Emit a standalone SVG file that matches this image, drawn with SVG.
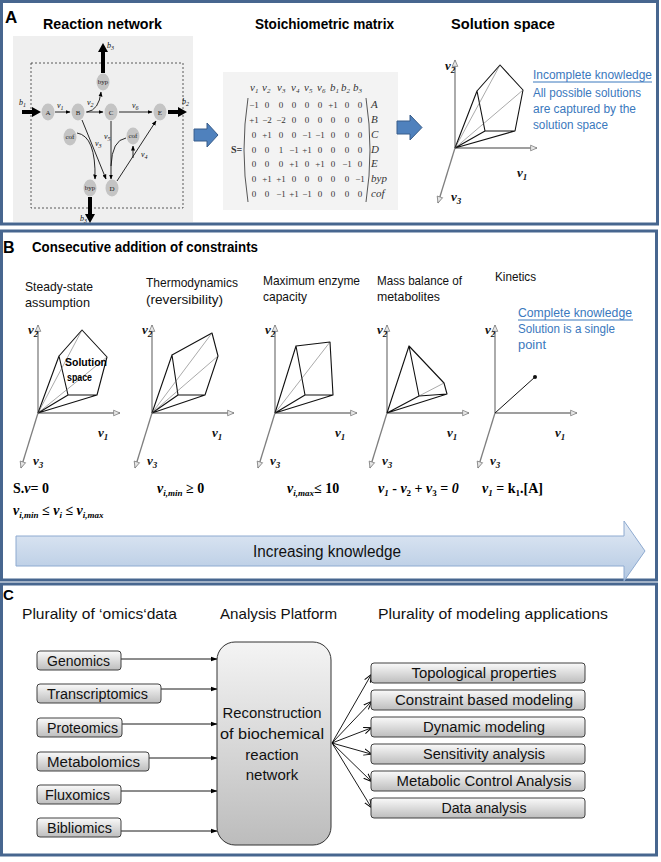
<svg xmlns="http://www.w3.org/2000/svg" width="661" height="862" viewBox="0 0 661 862">
<defs>
<style>
.panel{fill:#fff;stroke:#47668f;stroke-width:3}
.ttl{font-family:'Liberation Sans',Arial,sans-serif;font-weight:bold;fill:#000}
.cal{font-family:'Liberation Sans',Arial,sans-serif;fill:#111}
.blue{font-family:'Liberation Sans',Arial,sans-serif;fill:#3a78bd;font-size:12px}
.node{fill:#c4c4c4}
.nt{font-family:'Liberation Serif','Times New Roman',serif;font-size:7px;text-anchor:middle;fill:#222}
.net{stroke:#111;stroke-width:0.9;fill:none}
.lab{font-family:'Liberation Serif','Times New Roman',serif;font-style:italic;font-size:8px;fill:#111}
.mx{font-family:'Liberation Serif','Times New Roman',serif;font-size:9px;text-anchor:middle;fill:#333}
.mh{font-family:'Liberation Serif','Times New Roman',serif;font-style:italic;font-size:11px;fill:#333}
.axis{stroke:#7f7f7f;stroke-width:1.3;fill:none}
.poly{stroke:#111;stroke-width:1.1;fill:none;stroke-linejoin:round}
.thin{stroke:#555;stroke-width:0.5;fill:none}
.vl{font-family:'Liberation Serif','Times New Roman',serif;font-weight:bold;font-style:italic;font-size:13px;fill:#111}
.eq{font-family:'Liberation Serif','Times New Roman',serif;font-weight:bold;font-size:14px;fill:#000}
.box{stroke:#404040;stroke-width:1;fill:url(#gb)}
.bt{font-family:'Liberation Sans',Arial,sans-serif;font-size:14px;fill:#111}
.conn{stroke:#000;stroke-width:0.9;fill:none}
.blk{fill:#4f81bd;stroke:#385d8a;stroke-width:1}
</style>
<linearGradient id="gb" x1="0" y1="0" x2="0" y2="1"><stop offset="0" stop-color="#fafafa"/><stop offset="1" stop-color="#bdbdbd"/></linearGradient>
<linearGradient id="gbig" x1="0" y1="0" x2="0" y2="1"><stop offset="0" stop-color="#f4f4f4"/><stop offset="1" stop-color="#bcbcbc"/></linearGradient>
<linearGradient id="gk" x1="0" y1="0" x2="0" y2="1"><stop offset="0" stop-color="#e3ebf5"/><stop offset="1" stop-color="#b3c8e2"/></linearGradient>
<marker id="ah" viewBox="0 0 10 10" refX="9" refY="5" markerWidth="5" markerHeight="5" orient="auto" markerUnits="userSpaceOnUse"><path d="M0,1 L10,5 L0,9 z" fill="#000"/></marker>
<marker id="ahc" viewBox="0 0 10 10" refX="9" refY="5" markerWidth="7" markerHeight="7" orient="auto" markerUnits="userSpaceOnUse"><path d="M0,1.5 L10,5 L0,8.5 z" fill="#000"/></marker>
<marker id="ahf" viewBox="0 0 10 10" refX="9" refY="5" markerWidth="8" markerHeight="8" orient="auto" markerUnits="userSpaceOnUse"><path d="M0,1 L10,5 L0,9 M10,5 L0,1" fill="none" stroke="#000" stroke-width="1.2"/></marker>
<marker id="ax" viewBox="0 0 10 10" refX="9" refY="5" markerWidth="8" markerHeight="8" orient="auto" markerUnits="userSpaceOnUse"><path d="M1,1.5 L9,5 L1,8.5 z" fill="#e6e6e6" stroke="#808080" stroke-width="1"/></marker>
</defs>

<!-- Panels -->
<rect class="panel" x="1.5" y="1.5" width="656" height="222.5"/>
<rect class="panel" x="1.5" y="231" width="655" height="349"/>
<rect class="panel" x="1.5" y="584" width="655" height="271"/>

<!-- ===== Panel A ===== -->
<g id="panelA">
<text class="ttl" x="5" y="23" font-size="17">A</text>
<text class="ttl" x="43" y="29" font-size="14" textLength="119" lengthAdjust="spacingAndGlyphs">Reaction network</text>
<text class="ttl" x="255" y="29" font-size="14" textLength="139" lengthAdjust="spacingAndGlyphs">Stoichiometric matrix</text>
<text class="ttl" x="451" y="29" font-size="14" textLength="104" lengthAdjust="spacingAndGlyphs">Solution space</text>

<g id="reaction-network">
<rect x="13" y="36" width="180" height="186" fill="#efefef"/>
<rect x="31" y="63" width="152" height="145" fill="none" stroke="#333" stroke-width="0.8" stroke-dasharray="2,2"/>
<g id="network-connectors">
<path d="M22,110 L32,110 L32,107 L41,112 L32,117 L32,114 L22,114 Z" fill="#000"/>
<path d="M168,110 L178,110 L178,107 L187,112 L178,117 L178,114 L168,114 Z" fill="#000"/>
<path d="M101,73 L101,52 L98,52 L103,43 L108,52 L105,52 L105,73 Z" fill="#000"/>
<path d="M88,197 L88,214 L85,214 L90,223 L95,214 L92,214 L92,197 Z" fill="#000"/>
<path class="net" d="M55,112 L70,112" marker-end="url(#ah)"/>
<path class="net" d="M86,112 L103,112" marker-end="url(#ah)"/>
<path class="net" d="M87,112 Q99,110 101,92" marker-end="url(#ah)"/>
<path class="net" d="M119,112 L152,112" marker-end="url(#ah)"/>
<path class="net" d="M82,120 L106,179" marker-end="url(#ah)"/>
<path class="net" d="M77,133 Q96,136 95,179" marker-end="url(#ah)"/>
<path class="net" d="M111,121 L111,179" marker-end="url(#ah)"/>
<path class="net" d="M126,138 Q112,140 111,166"/>
<path class="net" d="M117,181 L156,121" marker-end="url(#ah)"/>
<path class="net" d="M133,158 L133,146" marker-end="url(#ah)"/>
</g>
<g id="n-A"><ellipse class="node" cx="48" cy="112" rx="6.5" ry="8.5"/><text class="nt" x="48" y="114.5">A</text></g>
<g id="n-B"><ellipse class="node" cx="78" cy="112" rx="6.5" ry="8.5"/><text class="nt" x="78" y="114.5">B</text></g>
<g id="n-C"><ellipse class="node" cx="111" cy="112" rx="6.5" ry="8.5"/><text class="nt" x="111" y="114.5">C</text></g>
<g id="n-E"><ellipse class="node" cx="160" cy="112" rx="6.5" ry="8.5"/><text class="nt" x="160" y="114.5">E</text></g>
<g id="n-byp1"><ellipse class="node" cx="103" cy="82" rx="6.5" ry="8.5"/><text class="nt" x="103" y="84" font-size="6">byp</text></g>
<g id="n-cof1"><ellipse class="node" cx="70" cy="137" rx="6.5" ry="8.5"/><text class="nt" x="70" y="139" font-size="6">cof</text></g>
<g id="n-cof2"><ellipse class="node" cx="133" cy="136" rx="6.5" ry="8.5"/><text class="nt" x="133" y="138" font-size="6">cof</text></g>
<g id="n-byp2"><ellipse class="node" cx="90" cy="188" rx="6.5" ry="8.5"/><text class="nt" x="90" y="190" font-size="6">byp</text></g>
<g id="n-D"><ellipse class="node" cx="112" cy="188" rx="6.5" ry="8.5"/><text class="nt" x="112" y="190.5">D</text></g>
<text class="lab" x="19" y="105">b<tspan font-size="6" dy="2">1</tspan></text>
<text class="lab" x="57" y="108">v<tspan font-size="6" dy="2">1</tspan></text>
<text class="lab" x="87" y="105">v<tspan font-size="6" dy="2">2</tspan></text>
<text class="lab" x="132" y="108">v<tspan font-size="6" dy="2">6</tspan></text>
<text class="lab" x="182" y="104">b<tspan font-size="6" dy="2">2</tspan></text>
<text class="lab" x="107" y="48">b<tspan font-size="6" dy="2">3</tspan></text>
<text class="lab" x="80" y="221">b<tspan font-size="6" dy="2">3</tspan></text>
<text class="lab" x="104" y="139">v<tspan font-size="6" dy="2">5</tspan></text>
<text class="lab" x="95" y="146">v<tspan font-size="6" dy="2">3</tspan></text>
<text class="lab" x="141" y="157">v<tspan font-size="6" dy="2">4</tspan></text>
</g>

<path class="blk" d="M194,129 L207,129 L207,123 L218,135 L207,147 L207,141 L194,141 Z"/>

<g id="stoichiometric-matrix">
<rect x="223" y="72" width="175" height="138" fill="#f3f3f3"/>
<text class="mh" x="250" y="91">v<tspan font-size="7" dy="2">1</tspan></text>
<text class="mh" x="262" y="91">v<tspan font-size="7" dy="2">2</tspan></text>
<text class="mh" x="277" y="91">v<tspan font-size="7" dy="2">3</tspan></text>
<text class="mh" x="291" y="91">v<tspan font-size="7" dy="2">4</tspan></text>
<text class="mh" x="304" y="91">v<tspan font-size="7" dy="2">5</tspan></text>
<text class="mh" x="317" y="91">v<tspan font-size="7" dy="2">6</tspan></text>
<text class="mh" x="330" y="91">b<tspan font-size="7" dy="2">1</tspan></text>
<text class="mh" x="341" y="91">b<tspan font-size="7" dy="2">2</tspan></text>
<text class="mh" x="353" y="91">b<tspan font-size="7" dy="2">3</tspan></text>
<text x="231" y="153" font-family="'Liberation Serif',serif" font-weight="bold" font-size="10" fill="#333">S=</text>
<path d="M248,98 Q240,150 248,202" fill="none" stroke="#444" stroke-width="0.9"/>
<path d="M366,98 Q374,150 366,202" fill="none" stroke="#444" stroke-width="0.9"/>
<g class="mx">
<text y="107.5"><tspan x="254">−1</tspan><tspan x="267">0</tspan><tspan x="281">0</tspan><tspan x="294">0</tspan><tspan x="307">0</tspan><tspan x="320">0</tspan><tspan x="333">+1</tspan><tspan x="347">0</tspan><tspan x="360">0</tspan></text>
<text y="122.5"><tspan x="254">+1</tspan><tspan x="267">−2</tspan><tspan x="281">−2</tspan><tspan x="294">0</tspan><tspan x="307">0</tspan><tspan x="320">0</tspan><tspan x="333">0</tspan><tspan x="347">0</tspan><tspan x="360">0</tspan></text>
<text y="137.5"><tspan x="254">0</tspan><tspan x="267">+1</tspan><tspan x="281">0</tspan><tspan x="294">0</tspan><tspan x="307">−1</tspan><tspan x="320">−1</tspan><tspan x="333">0</tspan><tspan x="347">0</tspan><tspan x="360">0</tspan></text>
<text y="152.5"><tspan x="254">0</tspan><tspan x="267">0</tspan><tspan x="281">1</tspan><tspan x="294">−1</tspan><tspan x="307">+1</tspan><tspan x="320">0</tspan><tspan x="333">0</tspan><tspan x="347">0</tspan><tspan x="360">0</tspan></text>
<text y="167"><tspan x="254">0</tspan><tspan x="267">0</tspan><tspan x="281">0</tspan><tspan x="294">+1</tspan><tspan x="307">0</tspan><tspan x="320">+1</tspan><tspan x="333">0</tspan><tspan x="347">−1</tspan><tspan x="360">0</tspan></text>
<text y="182"><tspan x="254">0</tspan><tspan x="267">+1</tspan><tspan x="281">+1</tspan><tspan x="294">0</tspan><tspan x="307">0</tspan><tspan x="320">0</tspan><tspan x="333">0</tspan><tspan x="347">0</tspan><tspan x="360">−1</tspan></text>
<text y="197"><tspan x="254">0</tspan><tspan x="267">0</tspan><tspan x="281">−1</tspan><tspan x="294">+1</tspan><tspan x="307">−1</tspan><tspan x="320">0</tspan><tspan x="333">0</tspan><tspan x="347">0</tspan><tspan x="360">0</tspan></text>
</g>
<g class="mh" font-size="10">
<text x="371" y="108">A</text><text x="371" y="123">B</text><text x="371" y="138">C</text><text x="371" y="153">D</text><text x="371" y="167">E</text><text x="371" y="182">byp</text><text x="371" y="197">cof</text>
</g>
</g>

<path class="blk" d="M397,121 L410,121 L410,115 L422,127.5 L410,140 L410,134 L397,134 Z"/>

<g id="solution-space-A" transform="translate(455,148)">
<line class="axis" x1="0" y1="0" x2="0" y2="-88" marker-end="url(#ax)"/>
<line class="axis" x1="0" y1="0" x2="82" y2="0" marker-end="url(#ax)"/>
<line class="axis" x1="0" y1="0" x2="-17" y2="55" marker-end="url(#ax)"/>
<path class="poly" d="M22,-57 L45,-83 L68,-58 L60,-17 L30,-17 Z M0,0 L22,-57 M0,0 L30,-17 M0,0 L60,-17"/>
<path class="thin" d="M0,0 L45,-83 M0,0 L68,-58"/>
<text class="vl" x="-10" y="-78">v<tspan font-size="9" dy="3">2</tspan></text>
<text class="vl" x="62" y="29">v<tspan font-size="9" dy="3">1</tspan></text>
<text class="vl" x="-4" y="53">v<tspan font-size="9" dy="3">3</tspan></text>
</g>
<text class="blue" x="533" y="79" textLength="119" lengthAdjust="spacingAndGlyphs">Incomplete knowledge</text>
<line x1="533" y1="82" x2="652" y2="82" stroke="#3a78bd" stroke-width="1"/>
<text class="blue" x="533" y="97" textLength="108" lengthAdjust="spacingAndGlyphs">All possible solutions</text>
<text class="blue" x="533" y="113" textLength="103" lengthAdjust="spacingAndGlyphs">are captured by the</text>
<text class="blue" x="533" y="129" textLength="75" lengthAdjust="spacingAndGlyphs">solution space</text>
</g>

<!-- ===== Panel B ===== -->
<g id="panelB">
<text class="ttl" x="3" y="253" font-size="16">B</text>
<text class="ttl" x="32" y="252" font-size="14" textLength="226" lengthAdjust="spacingAndGlyphs">Consecutive addition of constraints</text>
<g class="cal" font-size="13">
<text x="25" y="291" textLength="68" lengthAdjust="spacingAndGlyphs">Steady-state</text>
<text x="25" y="307" textLength="65" lengthAdjust="spacingAndGlyphs">assumption</text>
<text x="146" y="287" textLength="92" lengthAdjust="spacingAndGlyphs">Thermodynamics</text>
<text x="146" y="304" textLength="77" lengthAdjust="spacingAndGlyphs">(reversibility)</text>
<text x="263" y="285" textLength="97" lengthAdjust="spacingAndGlyphs">Maximum enzyme</text>
<text x="263" y="301" textLength="44" lengthAdjust="spacingAndGlyphs">capacity</text>
<text x="377" y="285" textLength="85" lengthAdjust="spacingAndGlyphs">Mass balance of</text>
<text x="377" y="301" textLength="63" lengthAdjust="spacingAndGlyphs">metabolites</text>
<text x="495" y="281" textLength="41" lengthAdjust="spacingAndGlyphs">Kinetics</text>
</g>

<g id="plot1" transform="translate(38,413)">
<line class="axis" x1="0" y1="0" x2="0" y2="-88" marker-end="url(#ax)"/>
<line class="axis" x1="0" y1="0" x2="82" y2="0" marker-end="url(#ax)"/>
<line class="axis" x1="0" y1="0" x2="-17" y2="55" marker-end="url(#ax)"/>
<path class="poly" d="M21,-57 L44,-83 L69,-56 L59,-18 L30,-18 Z M0,0 L21,-57 M0,0 L30,-18 M0,0 L59,-18"/>
<path class="thin" d="M0,0 L44,-83 M0,0 L69,-56"/>
<text class="vl" x="-10" y="-79">v<tspan font-size="9" dy="3">2</tspan></text>
<text class="vl" x="60" y="24">v<tspan font-size="9" dy="3">1</tspan></text>
<text class="vl" x="-5" y="52">v<tspan font-size="9" dy="3">3</tspan></text>
<text class="ttl" x="27" y="-47" font-size="11" textLength="42" lengthAdjust="spacingAndGlyphs">Solution</text>
<text class="ttl" x="29" y="-32" font-size="11" textLength="25" lengthAdjust="spacingAndGlyphs">space</text>
</g>

<g id="plot2" transform="translate(152,413)">
<line class="axis" x1="0" y1="0" x2="0" y2="-88" marker-end="url(#ax)"/>
<line class="axis" x1="0" y1="0" x2="82" y2="0" marker-end="url(#ax)"/>
<line class="axis" x1="0" y1="0" x2="-17" y2="55" marker-end="url(#ax)"/>
<path class="poly" d="M20,-58 L60,-80 L66,-57 L53,-18 L26,-18 Z M0,0 L20,-58 M0,0 L26,-18 M0,0 L53,-18"/>
<path class="thin" d="M0,0 L60,-80 M0,0 L66,-57"/>
<text class="vl" x="-10" y="-79">v<tspan font-size="9" dy="3">2</tspan></text>
<text class="vl" x="60" y="24">v<tspan font-size="9" dy="3">1</tspan></text>
<text class="vl" x="-5" y="52">v<tspan font-size="9" dy="3">3</tspan></text>
</g>

<g id="plot3" transform="translate(275,413)">
<line class="axis" x1="0" y1="0" x2="0" y2="-88" marker-end="url(#ax)"/>
<line class="axis" x1="0" y1="0" x2="82" y2="0" marker-end="url(#ax)"/>
<line class="axis" x1="0" y1="0" x2="-17" y2="55" marker-end="url(#ax)"/>
<path class="poly" d="M21,-67 L55,-71 L58,-18 L30,-18 Z M0,0 L21,-67 M0,0 L30,-18 M0,0 L58,-18"/>
<path class="thin" d="M0,0 L55,-71"/>
<text class="vl" x="-10" y="-79">v<tspan font-size="9" dy="3">2</tspan></text>
<text class="vl" x="60" y="24">v<tspan font-size="9" dy="3">1</tspan></text>
<text class="vl" x="-5" y="52">v<tspan font-size="9" dy="3">3</tspan></text>
</g>

<g id="plot4" transform="translate(387,413)">
<line class="axis" x1="0" y1="0" x2="0" y2="-88" marker-end="url(#ax)"/>
<line class="axis" x1="0" y1="0" x2="82" y2="0" marker-end="url(#ax)"/>
<line class="axis" x1="0" y1="0" x2="-17" y2="55" marker-end="url(#ax)"/>
<path class="poly" d="M22,-67 L57,-30 L60,-19 L32,-17 Z M0,0 L22,-67 M0,0 L32,-17 M0,0 L60,-19"/>
<path class="thin" d="M32,-17 L57,-30"/>
<text class="vl" x="-10" y="-79">v<tspan font-size="9" dy="3">2</tspan></text>
<text class="vl" x="60" y="24">v<tspan font-size="9" dy="3">1</tspan></text>
<text class="vl" x="-5" y="52">v<tspan font-size="9" dy="3">3</tspan></text>
</g>

<g id="plot5" transform="translate(495,413)">
<line class="axis" x1="0" y1="0" x2="0" y2="-88" marker-end="url(#ax)"/>
<line class="axis" x1="0" y1="0" x2="82" y2="0" marker-end="url(#ax)"/>
<line class="axis" x1="0" y1="0" x2="-17" y2="55" marker-end="url(#ax)"/>
<line x1="0" y1="0" x2="40" y2="-36" stroke="#111" stroke-width="1"/>
<circle cx="40" cy="-36" r="2" fill="#111"/>
<text class="vl" x="-10" y="-79">v<tspan font-size="9" dy="3">2</tspan></text>
<text class="vl" x="60" y="24">v<tspan font-size="9" dy="3">1</tspan></text>
<text class="vl" x="-5" y="52">v<tspan font-size="9" dy="3">3</tspan></text>
</g>
<text class="blue" x="518" y="317" textLength="114" lengthAdjust="spacingAndGlyphs">Complete knowledge</text>
<line x1="518" y1="320" x2="633" y2="320" stroke="#3a78bd" stroke-width="1"/>
<text class="blue" x="518" y="333" textLength="97" lengthAdjust="spacingAndGlyphs">Solution is a single</text>
<text class="blue" x="518" y="349" textLength="28" lengthAdjust="spacingAndGlyphs">point</text>

<g id="equations">
<text class="eq" x="13" y="493">S.<tspan font-style="italic">v</tspan>= 0</text>
<text class="eq" x="157" y="493"><tspan font-style="italic">v</tspan><tspan font-style="italic" font-size="9" dy="3">i,min</tspan><tspan dy="-3"> ≥  0</tspan></text>
<text class="eq" x="287" y="493"><tspan font-style="italic">v</tspan><tspan font-style="italic" font-size="9" dy="3">i,max</tspan><tspan dy="-3">≤  10</tspan></text>
<text class="eq" x="378" y="493"><tspan font-style="italic">v</tspan><tspan font-style="italic" font-size="9" dy="3">1</tspan><tspan dy="-3"> - </tspan><tspan font-style="italic">v</tspan><tspan font-size="9" dy="3">2</tspan><tspan dy="-3"> + </tspan><tspan font-style="italic">v</tspan><tspan font-size="9" dy="3">3</tspan><tspan dy="-3"> = </tspan><tspan font-style="italic">0</tspan></text>
<text class="eq" x="482" y="493"><tspan font-style="italic">v</tspan><tspan font-style="italic" font-size="9" dy="3">1</tspan><tspan dy="-3"> = k</tspan><tspan font-size="9" dy="3">1</tspan><tspan dy="-3">.[A]</tspan></text>
<text class="eq" x="13" y="515"><tspan font-style="italic">v</tspan><tspan font-style="italic" font-size="9" dy="3">i,min</tspan><tspan dy="-3"> ≤  </tspan><tspan font-style="italic">v</tspan><tspan font-style="italic" font-size="9" dy="3">i</tspan><tspan dy="-3"> ≤ </tspan><tspan font-style="italic">v</tspan><tspan font-style="italic" font-size="9" dy="3">i,max</tspan></text>
</g>

<g id="knowledge-arrow">
<path d="M16,536 L624,536 L624,521 L645,551 L624,581 L624,566 L16,566 Z" fill="url(#gk)" stroke="#8eaad0" stroke-width="1"/>
<text class="cal" x="327" y="557" font-size="16" text-anchor="middle" textLength="148" lengthAdjust="spacingAndGlyphs">Increasing knowledge</text>
</g>
</g>

<!-- ===== Panel C ===== -->
<g id="panelC">
<text class="ttl" x="3" y="600" font-size="15">C</text>
<text class="cal" x="22" y="619" font-size="15" textLength="155" lengthAdjust="spacingAndGlyphs">Plurality of ‘omics‘data</text>
<text class="cal" x="220" y="619" font-size="15" textLength="117" lengthAdjust="spacingAndGlyphs">Analysis Platform</text>
<text class="cal" x="378" y="619" font-size="15" textLength="230" lengthAdjust="spacingAndGlyphs">Plurality of modeling applications</text>

<g id="connectors">
<line class="conn" x1="121" y1="659" x2="217" y2="659" marker-end="url(#ahc)"/>
<line class="conn" x1="161" y1="689" x2="217" y2="689" marker-end="url(#ahc)"/>
<line class="conn" x1="122" y1="724" x2="217" y2="724" marker-end="url(#ahc)"/>
<line class="conn" x1="149" y1="758" x2="217" y2="758" marker-end="url(#ahc)"/>
<line class="conn" x1="121" y1="791" x2="217" y2="791" marker-end="url(#ahc)"/>
<line class="conn" x1="121" y1="831" x2="217" y2="831" marker-end="url(#ahc)"/>
<line class="conn" x1="332" y1="743" x2="371" y2="675" marker-end="url(#ahf)"/>
<line class="conn" x1="332" y1="743" x2="371" y2="702" marker-end="url(#ahf)"/>
<line class="conn" x1="332" y1="743" x2="371" y2="728" marker-end="url(#ahf)"/>
<line class="conn" x1="332" y1="743" x2="371" y2="754" marker-end="url(#ahf)"/>
<line class="conn" x1="332" y1="743" x2="371" y2="781" marker-end="url(#ahf)"/>
<line class="conn" x1="332" y1="743" x2="371" y2="807" marker-end="url(#ahf)"/>
</g>

<g id="genomics"><rect class="box" x="37" y="651" width="84" height="19" rx="3"/><text class="bt" x="47" y="666" textLength="63" lengthAdjust="spacingAndGlyphs">Genomics</text></g>
<g id="transcriptomics"><rect class="box" x="37" y="684" width="124" height="19" rx="3"/><text class="bt" x="47" y="699" textLength="101" lengthAdjust="spacingAndGlyphs">Transcriptomics</text></g>
<g id="proteomics"><rect class="box" x="37" y="718" width="85" height="19" rx="3"/><text class="bt" x="47" y="733" textLength="71" lengthAdjust="spacingAndGlyphs">Proteomics</text></g>
<g id="metabolomics"><rect class="box" x="37" y="752" width="112" height="19" rx="3"/><text class="bt" x="47" y="767" textLength="93" lengthAdjust="spacingAndGlyphs">Metabolomics</text></g>
<g id="fluxomics"><rect class="box" x="37" y="785" width="84" height="19" rx="3"/><text class="bt" x="45" y="800" textLength="65" lengthAdjust="spacingAndGlyphs">Fluxomics</text></g>
<g id="bibliomics"><rect class="box" x="37" y="818" width="84" height="19" rx="3"/><text class="bt" x="47" y="833" textLength="65" lengthAdjust="spacingAndGlyphs">Bibliomics</text></g>

<g id="reconstruction">
<rect x="217" y="642" width="114" height="203" rx="18" fill="url(#gbig)" stroke="#333" stroke-width="1"/>
<g class="cal" font-size="15" text-anchor="middle">
<text x="272" y="718" textLength="99" lengthAdjust="spacingAndGlyphs">Reconstruction</text>
<text x="272" y="739" textLength="104" lengthAdjust="spacingAndGlyphs">of biochemical</text>
<text x="272" y="760">reaction</text>
<text x="272" y="780">network</text>
</g>
</g>

<g id="topological"><rect class="box" x="371" y="663" width="214" height="20" rx="3"/><text class="bt" x="484" y="678" text-anchor="middle" textLength="145" lengthAdjust="spacingAndGlyphs">Topological properties</text></g>
<g id="constraint"><rect class="box" x="371" y="690" width="214" height="20" rx="3"/><text class="bt" x="484" y="705" text-anchor="middle" textLength="178" lengthAdjust="spacingAndGlyphs">Constraint based modeling</text></g>
<g id="dynamic"><rect class="box" x="371" y="717" width="214" height="20" rx="3"/><text class="bt" x="484" y="732" text-anchor="middle" textLength="122" lengthAdjust="spacingAndGlyphs">Dynamic modeling</text></g>
<g id="sensitivity"><rect class="box" x="371" y="744" width="214" height="20" rx="3"/><text class="bt" x="484" y="759" text-anchor="middle" textLength="122" lengthAdjust="spacingAndGlyphs">Sensitivity analysis</text></g>
<g id="mca"><rect class="box" x="371" y="771" width="214" height="20" rx="3"/><text class="bt" x="484" y="786" text-anchor="middle" textLength="175" lengthAdjust="spacingAndGlyphs">Metabolic Control Analysis</text></g>
<g id="data-analysis"><rect class="box" x="371" y="798" width="214" height="20" rx="3"/><text class="bt" x="484" y="813" text-anchor="middle" textLength="85" lengthAdjust="spacingAndGlyphs">Data analysis</text></g>
</g>
</svg>
